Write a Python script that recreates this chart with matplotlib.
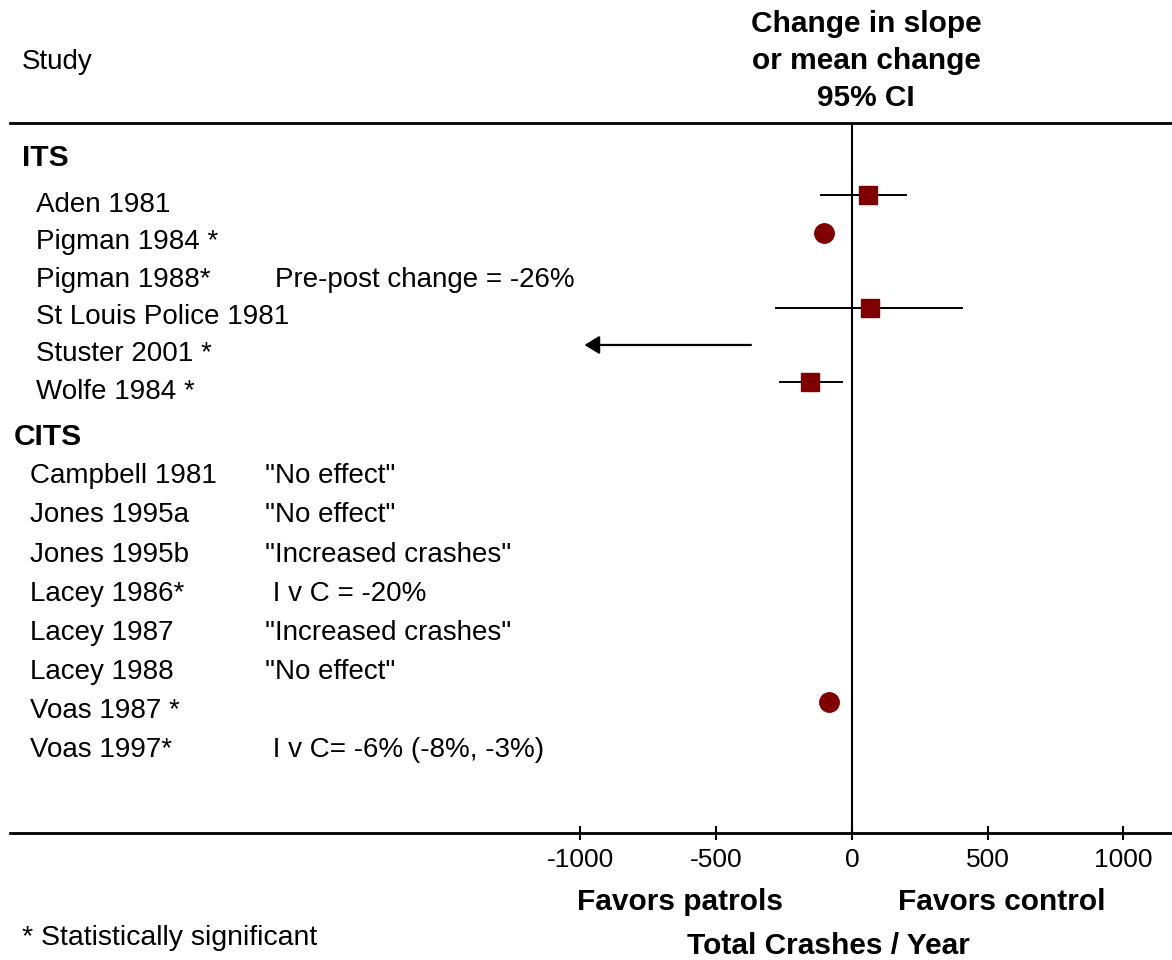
import numpy as np
import matplotlib.pyplot as plt

plt.rcParams['font.family'] = ['Liberation Sans', 'DejaVu Sans']

# ITS group
its_studies = ['Aden 1981', 'Pigman 1984 *', 'Pigman 1988*', 'St Louis Police 1981',
               'Stuster 2001 *', 'Wolfe 1984 *']
its_notes = ['', '', 'Pre-post change = -26%', '', '', '']
its_est = [59, -103, np.nan, 68, np.nan, -155]
its_lo = [-112, np.nan, np.nan, -278, np.nan, -266]
its_hi = [200, np.nan, np.nan, 407, np.nan, -36]

# Stuster 2001: only an arrow (estimate off the scale)
stuster_arrow = (-372, -985)

# CITS group
cits_studies = ['Campbell 1981', 'Jones 1995a', 'Jones 1995b', 'Lacey 1986*',
                'Lacey 1987', 'Lacey 1988', 'Voas 1987 *', 'Voas 1997*']
cits_notes = ['"No effect"', '"No effect"', '"Increased crashes"', ' I v C = -20%',
              '"Increased crashes"', '"No effect"', '', ' I v C= -6% (-8%, -3%)']
cits_est = [np.nan, np.nan, np.nan, np.nan, np.nan, np.nan, -83, np.nan]
cits_lo = [np.nan] * 8
cits_hi = [np.nan] * 8

xticks = [-1000, -500, 0, 500, 1000]

red = '#800000'
fs = 20
fsb = 21.5

fig = plt.figure(figsize=(11.72, 9.6), dpi=100)
ax = fig.add_axes([10 / 1172, 127 / 960, 1162 / 1172, 710 / 960])
ax.set_xlim(-3101, 1179)
ax.set_ylim(18.05, -0.936)

# row positions
its_y = np.arange(1, len(its_studies) + 1)
cits_head = 7.46
cits_y = 8.26 + 1.047 * np.arange(len(cits_studies))

lab = ax.get_yaxis_transform()


def draw_group(name, hx, y0, ys, studies, notes, est, lo, hi, lx, nx):
    ax.text(hx, y0, name, transform=lab, fontsize=fsb, fontweight='bold',
            va='center', ha='left')
    for y, s, n, e, l, h in zip(ys, studies, notes, est, lo, hi):
        ax.text(lx, y + 0.25, s, transform=lab, fontsize=fs, va='center', ha='left')
        if n:
            ax.text(nx, y + 0.25, n, transform=lab, fontsize=fs,
                    va='center', ha='left')
        if not np.isnan(l):
            ax.plot([l, h], [y, y], color='black', lw=1.4, zorder=2)
        if not np.isnan(e):
            if np.isnan(l):
                ax.plot(e, y, 'o', color=red, ms=14, mec=red, zorder=3)
            else:
                ax.plot(e, y, 's', color=red, ms=13, mec=red, zorder=3)


draw_group('ITS', 12 / 1162, 0, its_y, its_studies, its_notes,
           its_est, its_lo, its_hi, 26 / 1162, 265 / 1162)
draw_group('CITS', 4 / 1162, cits_head, cits_y, cits_studies, cits_notes,
           cits_est, cits_lo, cits_hi, 20 / 1162, 255 / 1162)

# Stuster arrow
sy = its_y[its_studies.index('Stuster 2001 *')]
ax.annotate('', xy=(stuster_arrow[1], sy), xytext=(stuster_arrow[0], sy),
            arrowprops=dict(arrowstyle='-|>,head_length=0.9,head_width=0.55',
                            color='black', lw=1.6, shrinkA=0, shrinkB=0))

# zero line
ax.axvline(0, color='black', lw=1.5, zorder=1)

# spines and ticks
for side in ['left', 'right']:
    ax.spines[side].set_visible(False)
ax.spines['top'].set_linewidth(2)
ax.spines['bottom'].set_linewidth(2)
ax.set_yticks([])
ax.set_xticks(xticks)
ax.set_xticklabels([str(t) for t in xticks], fontsize=19)
ax.tick_params(axis='x', direction='inout', length=10, width=1.5, pad=6)

# header
fig.text(22 / 1172, 1 - 62 / 960, 'Study', fontsize=fs, va='center', ha='left')
fig.text(866 / 1172, 1 - 61 / 960, 'Change in slope\nor mean change\n95% CI',
         fontsize=fsb, fontweight='bold', va='center', ha='center', linespacing=1.42)

# footer
fig.text(680 / 1172, 1 - 902 / 960, 'Favors patrols', fontsize=fsb,
         fontweight='bold', va='center', ha='center')
fig.text(1002 / 1172, 1 - 902 / 960, 'Favors control', fontsize=fsb,
         fontweight='bold', va='center', ha='center')
fig.text(828 / 1172, 1 - 946 / 960, 'Total Crashes / Year', fontsize=fsb,
         fontweight='bold', va='center', ha='center')
fig.text(22 / 1172, 1 - 938 / 960, '* Statistically significant', fontsize=20.5,
         va='center', ha='left')

fig.savefig('out.png', dpi=100)
